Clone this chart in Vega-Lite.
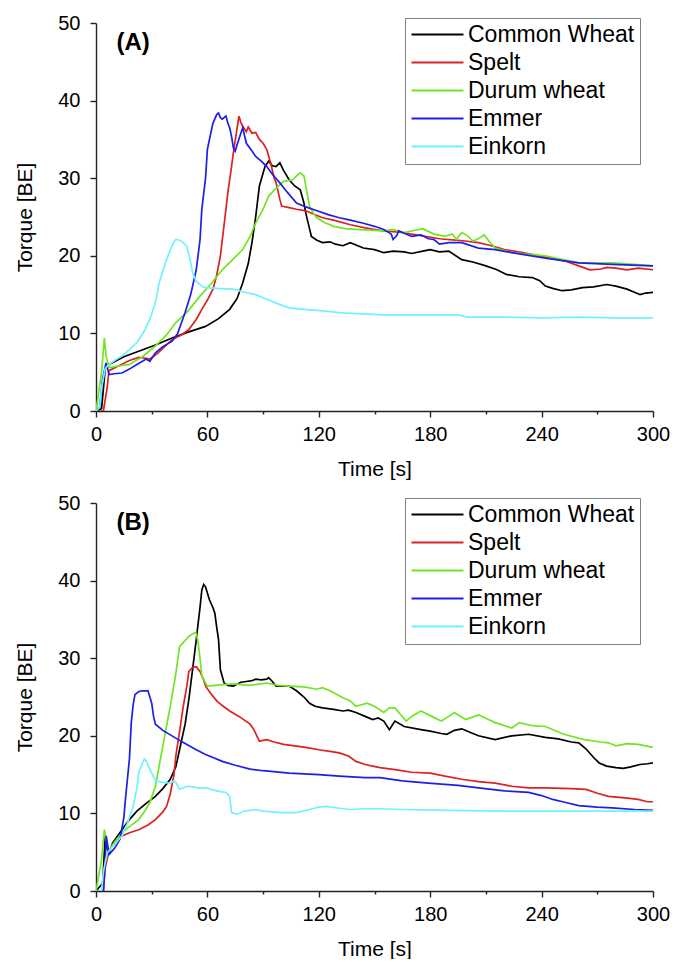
{
"$schema": "https://vega.github.io/schema/vega-lite/v6.json",
"padding": {"left": 14, "top": 13, "right": 0, "bottom": 0},
"background": "white",
"spacing": 14,
"config": {
  "font": "Liberation Sans",
  "view": {"stroke": null},
  "axis": {"grid": false, "domainColor": "#222222", "domainWidth": 1.4, "tickColor": "#222222", "tickWidth": 1.4, "labelColor": "black", "titleColor": "black", "labelFontSize": 20, "titleFontSize": 21, "titleFontWeight": "normal", "labelFlush": false, "labelOverlap": false},
  "legend": {"title": null, "orient": "none", "legendX": 309, "legendY": -5, "symbolType": "M-3,0H3", "symbolSize": 300, "symbolStrokeWidth": 2, "symbolOffset": 16, "labelOffset": 19, "labelFontSize": 23, "labelColor": "black", "fillColor": "white", "strokeColor": "#808080", "padding": 5, "rowPadding": 4, "labelLimit": 300}
},
"resolve": {"legend": {"color": "independent"}},
"vconcat": [
{
 "width": 557, "height": 388,
 "layer": [
  {
   "data": {"values": [
{"s":"Common Wheat","t":0,"v":0},{"s":"Common Wheat","t":3,"v":0.3},{"s":"Common Wheat","t":5,"v":5.5},{"s":"Common Wheat","t":7,"v":6},{"s":"Common Wheat","t":15,"v":7},{"s":"Common Wheat","t":23,"v":7.7},{"s":"Common Wheat","t":32,"v":8.5},{"s":"Common Wheat","t":41,"v":9.4},{"s":"Common Wheat","t":50,"v":10.2},{"s":"Common Wheat","t":59,"v":10.9},{"s":"Common Wheat","t":66,"v":11.9},{"s":"Common Wheat","t":72,"v":13.1},{"s":"Common Wheat","t":76,"v":14.5},{"s":"Common Wheat","t":79,"v":16.5},{"s":"Common Wheat","t":82,"v":19},{"s":"Common Wheat","t":84,"v":21.7},{"s":"Common Wheat","t":86,"v":25},{"s":"Common Wheat","t":88,"v":29},{"s":"Common Wheat","t":91,"v":31.5},{"s":"Common Wheat","t":93,"v":32.2},{"s":"Common Wheat","t":95,"v":31.6},{"s":"Common Wheat","t":97,"v":31.5},{"s":"Common Wheat","t":99,"v":32},{"s":"Common Wheat","t":101,"v":31},{"s":"Common Wheat","t":104,"v":29.8},{"s":"Common Wheat","t":107,"v":29},{"s":"Common Wheat","t":110,"v":28.5},{"s":"Common Wheat","t":112,"v":26.8},{"s":"Common Wheat","t":113,"v":25.5},{"s":"Common Wheat","t":115,"v":23.5},{"s":"Common Wheat","t":116,"v":22.5},{"s":"Common Wheat","t":119,"v":22},{"s":"Common Wheat","t":122,"v":21.7},{"s":"Common Wheat","t":126,"v":21.8},{"s":"Common Wheat","t":129,"v":21.5},{"s":"Common Wheat","t":133,"v":21.3},{"s":"Common Wheat","t":137,"v":21.7},{"s":"Common Wheat","t":141,"v":21.3},{"s":"Common Wheat","t":144,"v":21},{"s":"Common Wheat","t":150,"v":20.8},{"s":"Common Wheat","t":155,"v":20.4},{"s":"Common Wheat","t":160,"v":20.6},{"s":"Common Wheat","t":166,"v":20.5},{"s":"Common Wheat","t":170,"v":20.3},{"s":"Common Wheat","t":176,"v":20.6},{"s":"Common Wheat","t":180,"v":20.8},{"s":"Common Wheat","t":185,"v":20.5},{"s":"Common Wheat","t":190,"v":20.6},{"s":"Common Wheat","t":197,"v":19.5},{"s":"Common Wheat","t":203,"v":19.2},{"s":"Common Wheat","t":210,"v":18.7},{"s":"Common Wheat","t":216,"v":18.2},{"s":"Common Wheat","t":221,"v":17.6},{"s":"Common Wheat","t":228,"v":17.3},{"s":"Common Wheat","t":235,"v":17.2},{"s":"Common Wheat","t":239,"v":16.8},{"s":"Common Wheat","t":242,"v":16.1},{"s":"Common Wheat","t":246,"v":15.8},{"s":"Common Wheat","t":251,"v":15.5},{"s":"Common Wheat","t":256,"v":15.6},{"s":"Common Wheat","t":262,"v":15.9},{"s":"Common Wheat","t":268,"v":16},{"s":"Common Wheat","t":275,"v":16.3},{"s":"Common Wheat","t":280,"v":16.1},{"s":"Common Wheat","t":286,"v":15.7},{"s":"Common Wheat","t":290,"v":15.3},{"s":"Common Wheat","t":293,"v":15},{"s":"Common Wheat","t":296,"v":15.2},{"s":"Common Wheat","t":300,"v":15.3},
{"s":"Spelt","t":0,"v":0},{"s":"Spelt","t":4,"v":0},{"s":"Spelt","t":6,"v":3},{"s":"Spelt","t":7,"v":5.2},{"s":"Spelt","t":12,"v":5.8},{"s":"Spelt","t":18,"v":6.5},{"s":"Spelt","t":23,"v":6.9},{"s":"Spelt","t":27,"v":6.8},{"s":"Spelt","t":29,"v":6.7},{"s":"Spelt","t":33,"v":7.4},{"s":"Spelt","t":37,"v":8.3},{"s":"Spelt","t":41,"v":9.2},{"s":"Spelt","t":46,"v":9.8},{"s":"Spelt","t":50,"v":10.5},{"s":"Spelt","t":54,"v":11.8},{"s":"Spelt","t":57,"v":13.1},{"s":"Spelt","t":60,"v":14.3},{"s":"Spelt","t":63,"v":15.7},{"s":"Spelt","t":65,"v":17.5},{"s":"Spelt","t":67,"v":20},{"s":"Spelt","t":69,"v":24},{"s":"Spelt","t":71,"v":28.1},{"s":"Spelt","t":73,"v":31.5},{"s":"Spelt","t":74,"v":33.3},{"s":"Spelt","t":76,"v":36.5},{"s":"Spelt","t":77,"v":38},{"s":"Spelt","t":78,"v":37.2},{"s":"Spelt","t":79,"v":36.7},{"s":"Spelt","t":81,"v":36},{"s":"Spelt","t":82,"v":36.6},{"s":"Spelt","t":84,"v":35.8},{"s":"Spelt","t":86,"v":35.9},{"s":"Spelt","t":88,"v":35},{"s":"Spelt","t":90,"v":34.5},{"s":"Spelt","t":92,"v":33.7},{"s":"Spelt","t":94,"v":32},{"s":"Spelt","t":96,"v":30},{"s":"Spelt","t":97,"v":29.4},{"s":"Spelt","t":99,"v":27.3},{"s":"Spelt","t":100,"v":26.4},{"s":"Spelt","t":104,"v":26.2},{"s":"Spelt","t":108,"v":26},{"s":"Spelt","t":113,"v":25.8},{"s":"Spelt","t":118,"v":25.3},{"s":"Spelt","t":122,"v":24.9},{"s":"Spelt","t":128,"v":24.6},{"s":"Spelt","t":137,"v":24},{"s":"Spelt","t":145,"v":23.6},{"s":"Spelt","t":155,"v":23.2},{"s":"Spelt","t":165,"v":23},{"s":"Spelt","t":175,"v":22.6},{"s":"Spelt","t":185,"v":22.2},{"s":"Spelt","t":195,"v":22},{"s":"Spelt","t":206,"v":21.7},{"s":"Spelt","t":213,"v":21.3},{"s":"Spelt","t":220,"v":20.8},{"s":"Spelt","t":230,"v":20.4},{"s":"Spelt","t":239,"v":20},{"s":"Spelt","t":247,"v":19.6},{"s":"Spelt","t":253,"v":19.3},{"s":"Spelt","t":260,"v":18.7},{"s":"Spelt","t":266,"v":18.2},{"s":"Spelt","t":272,"v":18.3},{"s":"Spelt","t":275,"v":18.5},{"s":"Spelt","t":280,"v":18.4},{"s":"Spelt","t":286,"v":18.2},{"s":"Spelt","t":292,"v":18.4},{"s":"Spelt","t":300,"v":18.2},
{"s":"Durum wheat","t":0,"v":0},{"s":"Durum wheat","t":3,"v":5},{"s":"Durum wheat","t":4.5,"v":9.4},{"s":"Durum wheat","t":5.5,"v":7},{"s":"Durum wheat","t":7,"v":5.6},{"s":"Durum wheat","t":12,"v":5.8},{"s":"Durum wheat","t":18,"v":6},{"s":"Durum wheat","t":25,"v":7},{"s":"Durum wheat","t":32,"v":8.4},{"s":"Durum wheat","t":38,"v":9.8},{"s":"Durum wheat","t":43,"v":11.4},{"s":"Durum wheat","t":50,"v":13},{"s":"Durum wheat","t":56,"v":14.8},{"s":"Durum wheat","t":62,"v":16.4},{"s":"Durum wheat","t":68,"v":18.2},{"s":"Durum wheat","t":74,"v":19.6},{"s":"Durum wheat","t":79,"v":20.8},{"s":"Durum wheat","t":83,"v":22.5},{"s":"Durum wheat","t":86,"v":24.2},{"s":"Durum wheat","t":90,"v":26},{"s":"Durum wheat","t":93,"v":27.7},{"s":"Durum wheat","t":97,"v":28.7},{"s":"Durum wheat","t":101,"v":29.6},{"s":"Durum wheat","t":106,"v":29.8},{"s":"Durum wheat","t":108,"v":30.3},{"s":"Durum wheat","t":110,"v":30.7},{"s":"Durum wheat","t":112,"v":30.3},{"s":"Durum wheat","t":113,"v":29},{"s":"Durum wheat","t":115,"v":26.4},{"s":"Durum wheat","t":117,"v":25.5},{"s":"Durum wheat","t":119,"v":24.9},{"s":"Durum wheat","t":123,"v":24.3},{"s":"Durum wheat","t":128,"v":23.8},{"s":"Durum wheat","t":134,"v":23.5},{"s":"Durum wheat","t":140,"v":23.4},{"s":"Durum wheat","t":147,"v":23.3},{"s":"Durum wheat","t":155,"v":23.2},{"s":"Durum wheat","t":160,"v":23.4},{"s":"Durum wheat","t":166,"v":23},{"s":"Durum wheat","t":170,"v":23.2},{"s":"Durum wheat","t":176,"v":23.5},{"s":"Durum wheat","t":182,"v":22.8},{"s":"Durum wheat","t":188,"v":22.5},{"s":"Durum wheat","t":192,"v":22.8},{"s":"Durum wheat","t":194,"v":22.1},{"s":"Durum wheat","t":197,"v":23},{"s":"Durum wheat","t":200,"v":22.6},{"s":"Durum wheat","t":203,"v":21.9},{"s":"Durum wheat","t":206,"v":22.2},{"s":"Durum wheat","t":209,"v":22.7},{"s":"Durum wheat","t":212,"v":21.8},{"s":"Durum wheat","t":215,"v":21},{"s":"Durum wheat","t":224,"v":20.4},{"s":"Durum wheat","t":242,"v":20},{"s":"Durum wheat","t":260,"v":19.1},{"s":"Durum wheat","t":278,"v":19.1},{"s":"Durum wheat","t":290,"v":18.9},{"s":"Durum wheat","t":300,"v":18.7},
{"s":"Emmer","t":0,"v":0},{"s":"Emmer","t":2,"v":0.5},{"s":"Emmer","t":3.5,"v":4},{"s":"Emmer","t":5.4,"v":6.2},{"s":"Emmer","t":6.5,"v":5.2},{"s":"Emmer","t":7,"v":4.7},{"s":"Emmer","t":10,"v":4.8},{"s":"Emmer","t":14,"v":4.9},{"s":"Emmer","t":18,"v":5.4},{"s":"Emmer","t":22,"v":6},{"s":"Emmer","t":25,"v":6.4},{"s":"Emmer","t":27,"v":6.7},{"s":"Emmer","t":29,"v":6.4},{"s":"Emmer","t":32,"v":7.5},{"s":"Emmer","t":36,"v":8.3},{"s":"Emmer","t":41,"v":9},{"s":"Emmer","t":44,"v":10},{"s":"Emmer","t":48,"v":12.7},{"s":"Emmer","t":51,"v":15},{"s":"Emmer","t":54,"v":18.2},{"s":"Emmer","t":56,"v":22},{"s":"Emmer","t":57,"v":26},{"s":"Emmer","t":59,"v":30},{"s":"Emmer","t":60,"v":33.7},{"s":"Emmer","t":62,"v":36},{"s":"Emmer","t":63,"v":37.1},{"s":"Emmer","t":65,"v":38.2},{"s":"Emmer","t":66,"v":38.4},{"s":"Emmer","t":67,"v":37.8},{"s":"Emmer","t":68,"v":37.6},{"s":"Emmer","t":70,"v":38},{"s":"Emmer","t":71,"v":37.1},{"s":"Emmer","t":72,"v":36.5},{"s":"Emmer","t":73,"v":35.4},{"s":"Emmer","t":74,"v":33.9},{"s":"Emmer","t":75,"v":33.5},{"s":"Emmer","t":76,"v":34.3},{"s":"Emmer","t":78,"v":35.8},{"s":"Emmer","t":79,"v":36.5},{"s":"Emmer","t":80,"v":35.5},{"s":"Emmer","t":81,"v":34.5},{"s":"Emmer","t":84,"v":33.5},{"s":"Emmer","t":86,"v":32.8},{"s":"Emmer","t":89,"v":32.2},{"s":"Emmer","t":92,"v":31.5},{"s":"Emmer","t":95,"v":30.5},{"s":"Emmer","t":99,"v":29.4},{"s":"Emmer","t":103,"v":28.2},{"s":"Emmer","t":108,"v":26.8},{"s":"Emmer","t":113,"v":26.3},{"s":"Emmer","t":119,"v":25.8},{"s":"Emmer","t":125,"v":25.3},{"s":"Emmer","t":131,"v":24.9},{"s":"Emmer","t":137,"v":24.6},{"s":"Emmer","t":144,"v":24.2},{"s":"Emmer","t":150,"v":23.8},{"s":"Emmer","t":155,"v":23.4},{"s":"Emmer","t":159,"v":22.8},{"s":"Emmer","t":160,"v":22.1},{"s":"Emmer","t":162,"v":22.6},{"s":"Emmer","t":163,"v":23.2},{"s":"Emmer","t":167,"v":22.8},{"s":"Emmer","t":170,"v":22.5},{"s":"Emmer","t":175,"v":22.7},{"s":"Emmer","t":179,"v":22.2},{"s":"Emmer","t":182,"v":22.1},{"s":"Emmer","t":185,"v":21.5},{"s":"Emmer","t":190,"v":21.7},{"s":"Emmer","t":197,"v":21.7},{"s":"Emmer","t":206,"v":21},{"s":"Emmer","t":215,"v":20.8},{"s":"Emmer","t":224,"v":20.4},{"s":"Emmer","t":242,"v":19.7},{"s":"Emmer","t":260,"v":19.1},{"s":"Emmer","t":278,"v":18.9},{"s":"Emmer","t":300,"v":18.7},
{"s":"Einkorn","t":0,"v":0},{"s":"Einkorn","t":2,"v":0.5},{"s":"Einkorn","t":3,"v":3},{"s":"Einkorn","t":5,"v":5.5},{"s":"Einkorn","t":7,"v":6},{"s":"Einkorn","t":10,"v":6.5},{"s":"Einkorn","t":14,"v":7.1},{"s":"Einkorn","t":18,"v":7.9},{"s":"Einkorn","t":22,"v":8.8},{"s":"Einkorn","t":26,"v":10.3},{"s":"Einkorn","t":29,"v":11.8},{"s":"Einkorn","t":32,"v":14},{"s":"Einkorn","t":34,"v":16.5},{"s":"Einkorn","t":37,"v":18.8},{"s":"Einkorn","t":40,"v":20.8},{"s":"Einkorn","t":42,"v":21.8},{"s":"Einkorn","t":43,"v":22.1},{"s":"Einkorn","t":45,"v":22},{"s":"Einkorn","t":47,"v":21.7},{"s":"Einkorn","t":49,"v":21.2},{"s":"Einkorn","t":51,"v":19.1},{"s":"Einkorn","t":52,"v":17.8},{"s":"Einkorn","t":54,"v":16.7},{"s":"Einkorn","t":57,"v":16.1},{"s":"Einkorn","t":59,"v":15.9},{"s":"Einkorn","t":65,"v":15.8},{"s":"Einkorn","t":74,"v":15.7},{"s":"Einkorn","t":80,"v":15.3},{"s":"Einkorn","t":86,"v":15},{"s":"Einkorn","t":92,"v":14.4},{"s":"Einkorn","t":97,"v":13.9},{"s":"Einkorn","t":104,"v":13.3},{"s":"Einkorn","t":112,"v":13.1},{"s":"Einkorn","t":122,"v":12.9},{"s":"Einkorn","t":135,"v":12.6},{"s":"Einkorn","t":155,"v":12.4},{"s":"Einkorn","t":180,"v":12.4},{"s":"Einkorn","t":195,"v":12.4},{"s":"Einkorn","t":200,"v":12.1},{"s":"Einkorn","t":220,"v":12.1},{"s":"Einkorn","t":240,"v":12},{"s":"Einkorn","t":260,"v":12.1},{"s":"Einkorn","t":280,"v":12},{"s":"Einkorn","t":300,"v":12}
   ]},
   "mark": {"type": "line", "strokeWidth": 1.7, "clip": true},
   "encoding": {
    "x": {"field": "t", "type": "quantitative", "scale": {"domain": [0, 300], "nice": false},
          "axis": {"title": "Time [s]", "values": [0,30,60,90,120,150,180,210,240,270,300], "labelExpr": "datum.value % 60 === 0 ? datum.label : ''", "tickSize": {"condition": {"test": "datum.value % 60 === 0", "value": 6}, "value": 3}, "labelPadding": 7, "titlePadding": 14}},
    "y": {"field": "v", "type": "quantitative", "scale": {"domain": [0, 50], "nice": false},
          "axis": {"title": "Torque [BE]", "values": [0,2.5,5,7.5,10,12.5,15,17.5,20,22.5,25,27.5,30,32.5,35,37.5,40,42.5,45,47.5,50], "labelExpr": "datum.value % 5 === 0 ? datum.label : ''", "tickSize": {"condition": {"test": "datum.value % 5 === 0", "value": 6}, "value": 3}, "labelPadding": 10, "titlePadding": 22}},
    "color": {"field": "s", "type": "nominal",
      "scale": {"domain": ["Common Wheat", "Spelt", "Durum wheat", "Emmer", "Einkorn"], "range": ["#000000", "#dd2020", "#70e622", "#1e1ee8", "#6ef2ff"]},
      "legend": {}}
   }
  },
  {
   "data": {"values": [{"label": "(A)"}]},
   "mark": {"type": "text", "fontWeight": "bold", "fontSize": 24, "align": "left", "baseline": "middle", "color": "black"},
   "encoding": {"x": {"datum": 11, "type": "quantitative"}, "y": {"datum": 47.4, "type": "quantitative"}, "text": {"field": "label"}}
  }
 ]
},
{
 "width": 557, "height": 388,
 "layer": [
  {
   "data": {"values": [
{"s":"Common Wheat","t":0,"v":0},{"s":"Common Wheat","t":3.6,"v":1},{"s":"Common Wheat","t":4.5,"v":5},{"s":"Common Wheat","t":5,"v":7.1},{"s":"Common Wheat","t":6,"v":5.5},{"s":"Common Wheat","t":7,"v":4.9},{"s":"Common Wheat","t":9,"v":6.2},{"s":"Common Wheat","t":14,"v":7.9},{"s":"Common Wheat","t":18,"v":9.2},{"s":"Common Wheat","t":22,"v":10.3},{"s":"Common Wheat","t":27,"v":11.3},{"s":"Common Wheat","t":32,"v":12.2},{"s":"Common Wheat","t":36,"v":13.2},{"s":"Common Wheat","t":40,"v":14.4},{"s":"Common Wheat","t":43,"v":16},{"s":"Common Wheat","t":45,"v":18.2},{"s":"Common Wheat","t":48,"v":21.5},{"s":"Common Wheat","t":50,"v":24.7},{"s":"Common Wheat","t":52,"v":28.5},{"s":"Common Wheat","t":54,"v":32.4},{"s":"Common Wheat","t":56,"v":36.5},{"s":"Common Wheat","t":57,"v":38.8},{"s":"Common Wheat","t":58,"v":39.5},{"s":"Common Wheat","t":59,"v":39.2},{"s":"Common Wheat","t":61,"v":37.6},{"s":"Common Wheat","t":63,"v":36.5},{"s":"Common Wheat","t":64,"v":35.8},{"s":"Common Wheat","t":65,"v":34},{"s":"Common Wheat","t":66,"v":32.4},{"s":"Common Wheat","t":67,"v":28.5},{"s":"Common Wheat","t":69,"v":26.8},{"s":"Common Wheat","t":71,"v":26.5},{"s":"Common Wheat","t":74,"v":26.4},{"s":"Common Wheat","t":78,"v":26.9},{"s":"Common Wheat","t":81,"v":27},{"s":"Common Wheat","t":84,"v":27.1},{"s":"Common Wheat","t":86,"v":27.3},{"s":"Common Wheat","t":89,"v":27.2},{"s":"Common Wheat","t":92,"v":27.3},{"s":"Common Wheat","t":93,"v":27.5},{"s":"Common Wheat","t":95,"v":27},{"s":"Common Wheat","t":97,"v":26.4},{"s":"Common Wheat","t":100,"v":26.4},{"s":"Common Wheat","t":104,"v":26.4},{"s":"Common Wheat","t":108,"v":25.8},{"s":"Common Wheat","t":112,"v":25},{"s":"Common Wheat","t":115,"v":24.2},{"s":"Common Wheat","t":118,"v":23.8},{"s":"Common Wheat","t":122,"v":23.6},{"s":"Common Wheat","t":128,"v":23.4},{"s":"Common Wheat","t":133,"v":23.2},{"s":"Common Wheat","t":136,"v":23.3},{"s":"Common Wheat","t":140,"v":23},{"s":"Common Wheat","t":145,"v":22.5},{"s":"Common Wheat","t":149,"v":22.1},{"s":"Common Wheat","t":152,"v":22.3},{"s":"Common Wheat","t":155,"v":21.9},{"s":"Common Wheat","t":158,"v":20.8},{"s":"Common Wheat","t":161,"v":21.9},{"s":"Common Wheat","t":166,"v":21.2},{"s":"Common Wheat","t":175,"v":20.8},{"s":"Common Wheat","t":180,"v":20.6},{"s":"Common Wheat","t":186,"v":20.3},{"s":"Common Wheat","t":189,"v":20.2},{"s":"Common Wheat","t":193,"v":20.7},{"s":"Common Wheat","t":197,"v":20.9},{"s":"Common Wheat","t":203,"v":20.3},{"s":"Common Wheat","t":206,"v":20},{"s":"Common Wheat","t":215,"v":19.5},{"s":"Common Wheat","t":224,"v":20},{"s":"Common Wheat","t":233,"v":20.2},{"s":"Common Wheat","t":242,"v":19.8},{"s":"Common Wheat","t":249,"v":19.6},{"s":"Common Wheat","t":256,"v":19.2},{"s":"Common Wheat","t":260,"v":19.1},{"s":"Common Wheat","t":264,"v":18.3},{"s":"Common Wheat","t":268,"v":17.2},{"s":"Common Wheat","t":271,"v":16.5},{"s":"Common Wheat","t":275,"v":16.1},{"s":"Common Wheat","t":280,"v":15.9},{"s":"Common Wheat","t":284,"v":15.8},{"s":"Common Wheat","t":288,"v":16},{"s":"Common Wheat","t":293,"v":16.3},{"s":"Common Wheat","t":297,"v":16.4},{"s":"Common Wheat","t":300,"v":16.5},
{"s":"Spelt","t":0,"v":0},{"s":"Spelt","t":4,"v":0},{"s":"Spelt","t":5,"v":3},{"s":"Spelt","t":7,"v":5.2},{"s":"Spelt","t":10,"v":6.2},{"s":"Spelt","t":14,"v":7.1},{"s":"Spelt","t":18,"v":7.5},{"s":"Spelt","t":23,"v":7.9},{"s":"Spelt","t":28,"v":8.5},{"s":"Spelt","t":32,"v":9.2},{"s":"Spelt","t":36,"v":10.2},{"s":"Spelt","t":38,"v":10.9},{"s":"Spelt","t":40,"v":12.5},{"s":"Spelt","t":42,"v":15},{"s":"Spelt","t":43,"v":17.4},{"s":"Spelt","t":45,"v":20.5},{"s":"Spelt","t":47,"v":23.8},{"s":"Spelt","t":49,"v":26.5},{"s":"Spelt","t":50,"v":28.3},{"s":"Spelt","t":52,"v":28.8},{"s":"Spelt","t":54,"v":28.9},{"s":"Spelt","t":56,"v":28.3},{"s":"Spelt","t":58,"v":27.2},{"s":"Spelt","t":59,"v":26.4},{"s":"Spelt","t":62,"v":25.4},{"s":"Spelt","t":65,"v":24.5},{"s":"Spelt","t":68,"v":23.9},{"s":"Spelt","t":72,"v":23.2},{"s":"Spelt","t":77,"v":22.5},{"s":"Spelt","t":83,"v":21.5},{"s":"Spelt","t":85,"v":20.8},{"s":"Spelt","t":88,"v":19.3},{"s":"Spelt","t":90,"v":19.4},{"s":"Spelt","t":92,"v":19.5},{"s":"Spelt","t":96,"v":19.2},{"s":"Spelt","t":101,"v":18.9},{"s":"Spelt","t":107,"v":18.7},{"s":"Spelt","t":113,"v":18.5},{"s":"Spelt","t":120,"v":18.2},{"s":"Spelt","t":126,"v":18},{"s":"Spelt","t":131,"v":17.8},{"s":"Spelt","t":136,"v":17.4},{"s":"Spelt","t":140,"v":16.7},{"s":"Spelt","t":145,"v":16.3},{"s":"Spelt","t":149,"v":16.1},{"s":"Spelt","t":153,"v":15.9},{"s":"Spelt","t":162,"v":15.6},{"s":"Spelt","t":170,"v":15.3},{"s":"Spelt","t":180,"v":15.2},{"s":"Spelt","t":188,"v":14.8},{"s":"Spelt","t":197,"v":14.4},{"s":"Spelt","t":206,"v":14.1},{"s":"Spelt","t":215,"v":13.9},{"s":"Spelt","t":224,"v":13.5},{"s":"Spelt","t":233,"v":13.3},{"s":"Spelt","t":242,"v":13.3},{"s":"Spelt","t":256,"v":13.2},{"s":"Spelt","t":264,"v":13.1},{"s":"Spelt","t":270,"v":12.6},{"s":"Spelt","t":276,"v":12.2},{"s":"Spelt","t":285,"v":12},{"s":"Spelt","t":292,"v":11.8},{"s":"Spelt","t":297,"v":11.5},{"s":"Spelt","t":300,"v":11.5},
{"s":"Durum wheat","t":0,"v":0},{"s":"Durum wheat","t":3,"v":4},{"s":"Durum wheat","t":4.5,"v":7.9},{"s":"Durum wheat","t":5.5,"v":6.5},{"s":"Durum wheat","t":7,"v":5.2},{"s":"Durum wheat","t":10,"v":6.3},{"s":"Durum wheat","t":14,"v":7.5},{"s":"Durum wheat","t":18,"v":8.3},{"s":"Durum wheat","t":23,"v":9.2},{"s":"Durum wheat","t":26,"v":10.2},{"s":"Durum wheat","t":29,"v":11.4},{"s":"Durum wheat","t":32,"v":13.5},{"s":"Durum wheat","t":34,"v":16.1},{"s":"Durum wheat","t":37,"v":20},{"s":"Durum wheat","t":40,"v":23.8},{"s":"Durum wheat","t":43,"v":28},{"s":"Durum wheat","t":45,"v":31.5},{"s":"Durum wheat","t":48,"v":32.3},{"s":"Durum wheat","t":50,"v":32.8},{"s":"Durum wheat","t":53,"v":33.3},{"s":"Durum wheat","t":54,"v":33.2},{"s":"Durum wheat","t":55,"v":32},{"s":"Durum wheat","t":56,"v":30},{"s":"Durum wheat","t":57,"v":27.7},{"s":"Durum wheat","t":60,"v":26.4},{"s":"Durum wheat","t":64,"v":26.5},{"s":"Durum wheat","t":68,"v":26.6},{"s":"Durum wheat","t":75,"v":26.7},{"s":"Durum wheat","t":82,"v":26.5},{"s":"Durum wheat","t":86,"v":26.6},{"s":"Durum wheat","t":92,"v":26.8},{"s":"Durum wheat","t":98,"v":26.5},{"s":"Durum wheat","t":104,"v":26.4},{"s":"Durum wheat","t":112,"v":26.3},{"s":"Durum wheat","t":119,"v":26},{"s":"Durum wheat","t":122,"v":26.2},{"s":"Durum wheat","t":126,"v":25.8},{"s":"Durum wheat","t":130,"v":25.3},{"s":"Durum wheat","t":133,"v":24.9},{"s":"Durum wheat","t":137,"v":24.5},{"s":"Durum wheat","t":140,"v":23.8},{"s":"Durum wheat","t":143,"v":24},{"s":"Durum wheat","t":146,"v":24.2},{"s":"Durum wheat","t":150,"v":23.8},{"s":"Durum wheat","t":155,"v":23},{"s":"Durum wheat","t":158,"v":23.6},{"s":"Durum wheat","t":161,"v":23.6},{"s":"Durum wheat","t":167,"v":21.9},{"s":"Durum wheat","t":170,"v":22.5},{"s":"Durum wheat","t":175,"v":23.2},{"s":"Durum wheat","t":180,"v":22.6},{"s":"Durum wheat","t":186,"v":21.9},{"s":"Durum wheat","t":190,"v":22.5},{"s":"Durum wheat","t":193,"v":23},{"s":"Durum wheat","t":199,"v":22.1},{"s":"Durum wheat","t":206,"v":22.7},{"s":"Durum wheat","t":215,"v":21.7},{"s":"Durum wheat","t":224,"v":21},{"s":"Durum wheat","t":228,"v":21.7},{"s":"Durum wheat","t":235,"v":21.3},{"s":"Durum wheat","t":242,"v":21.2},{"s":"Durum wheat","t":252,"v":20.2},{"s":"Durum wheat","t":263,"v":19.5},{"s":"Durum wheat","t":272,"v":19.2},{"s":"Durum wheat","t":276,"v":19.1},{"s":"Durum wheat","t":280,"v":18.7},{"s":"Durum wheat","t":286,"v":19},{"s":"Durum wheat","t":292,"v":18.9},{"s":"Durum wheat","t":300,"v":18.5},
{"s":"Emmer","t":0,"v":0},{"s":"Emmer","t":4,"v":0},{"s":"Emmer","t":5,"v":4},{"s":"Emmer","t":5.5,"v":7.1},{"s":"Emmer","t":6.5,"v":5.5},{"s":"Emmer","t":7,"v":4.7},{"s":"Emmer","t":10,"v":5.5},{"s":"Emmer","t":13,"v":6.7},{"s":"Emmer","t":15,"v":9.5},{"s":"Emmer","t":16,"v":12.2},{"s":"Emmer","t":18,"v":17},{"s":"Emmer","t":19,"v":21.7},{"s":"Emmer","t":20,"v":24},{"s":"Emmer","t":21,"v":25.3},{"s":"Emmer","t":23,"v":25.7},{"s":"Emmer","t":25,"v":25.8},{"s":"Emmer","t":28,"v":25.8},{"s":"Emmer","t":29,"v":25},{"s":"Emmer","t":30,"v":24.2},{"s":"Emmer","t":31,"v":22.5},{"s":"Emmer","t":32,"v":21.5},{"s":"Emmer","t":36,"v":20.7},{"s":"Emmer","t":43,"v":19.7},{"s":"Emmer","t":48,"v":19},{"s":"Emmer","t":54,"v":18.2},{"s":"Emmer","t":59,"v":17.6},{"s":"Emmer","t":63,"v":17.2},{"s":"Emmer","t":68,"v":16.7},{"s":"Emmer","t":75,"v":16.2},{"s":"Emmer","t":83,"v":15.7},{"s":"Emmer","t":90,"v":15.5},{"s":"Emmer","t":104,"v":15.2},{"s":"Emmer","t":120,"v":15},{"s":"Emmer","t":131,"v":14.8},{"s":"Emmer","t":145,"v":14.6},{"s":"Emmer","t":153,"v":14.6},{"s":"Emmer","t":165,"v":14.2},{"s":"Emmer","t":179,"v":13.9},{"s":"Emmer","t":195,"v":13.6},{"s":"Emmer","t":206,"v":13.3},{"s":"Emmer","t":220,"v":12.9},{"s":"Emmer","t":233,"v":12.7},{"s":"Emmer","t":240,"v":12.3},{"s":"Emmer","t":246,"v":11.8},{"s":"Emmer","t":253,"v":11.4},{"s":"Emmer","t":260,"v":11},{"s":"Emmer","t":270,"v":10.8},{"s":"Emmer","t":278,"v":10.7},{"s":"Emmer","t":290,"v":10.5},{"s":"Emmer","t":300,"v":10.4},
{"s":"Einkorn","t":0,"v":0},{"s":"Einkorn","t":3,"v":0},{"s":"Einkorn","t":4,"v":2.5},{"s":"Einkorn","t":6,"v":4.9},{"s":"Einkorn","t":10,"v":6},{"s":"Einkorn","t":14,"v":7.1},{"s":"Einkorn","t":17,"v":8.8},{"s":"Einkorn","t":20,"v":10.9},{"s":"Einkorn","t":22,"v":13.2},{"s":"Einkorn","t":23,"v":15.2},{"s":"Einkorn","t":25,"v":16.5},{"s":"Einkorn","t":26,"v":17},{"s":"Einkorn","t":27,"v":16.8},{"s":"Einkorn","t":29,"v":15.7},{"s":"Einkorn","t":31,"v":14.7},{"s":"Einkorn","t":32,"v":14.2},{"s":"Einkorn","t":36,"v":14},{"s":"Einkorn","t":40,"v":13.9},{"s":"Einkorn","t":42,"v":14.2},{"s":"Einkorn","t":43,"v":14},{"s":"Einkorn","t":45,"v":13.1},{"s":"Einkorn","t":48,"v":13.4},{"s":"Einkorn","t":50,"v":13.5},{"s":"Einkorn","t":55,"v":13.3},{"s":"Einkorn","t":59,"v":13.3},{"s":"Einkorn","t":65,"v":12.9},{"s":"Einkorn","t":70,"v":12.7},{"s":"Einkorn","t":72,"v":12.2},{"s":"Einkorn","t":73,"v":10.1},{"s":"Einkorn","t":76,"v":9.9},{"s":"Einkorn","t":80,"v":10.3},{"s":"Einkorn","t":86,"v":10.5},{"s":"Einkorn","t":90,"v":10.3},{"s":"Einkorn","t":95,"v":10.2},{"s":"Einkorn","t":100,"v":10.1},{"s":"Einkorn","t":108,"v":10.1},{"s":"Einkorn","t":115,"v":10.5},{"s":"Einkorn","t":120,"v":10.8},{"s":"Einkorn","t":124,"v":10.9},{"s":"Einkorn","t":130,"v":10.7},{"s":"Einkorn","t":137,"v":10.5},{"s":"Einkorn","t":145,"v":10.6},{"s":"Einkorn","t":153,"v":10.6},{"s":"Einkorn","t":165,"v":10.5},{"s":"Einkorn","t":190,"v":10.4},{"s":"Einkorn","t":220,"v":10.3},{"s":"Einkorn","t":250,"v":10.3},{"s":"Einkorn","t":275,"v":10.3},{"s":"Einkorn","t":300,"v":10.3}
   ]},
   "mark": {"type": "line", "strokeWidth": 1.7, "clip": true},
   "encoding": {
    "x": {"field": "t", "type": "quantitative", "scale": {"domain": [0, 300], "nice": false},
          "axis": {"title": "Time [s]", "values": [0,30,60,90,120,150,180,210,240,270,300], "labelExpr": "datum.value % 60 === 0 ? datum.label : ''", "tickSize": {"condition": {"test": "datum.value % 60 === 0", "value": 6}, "value": 3}, "labelPadding": 7, "titlePadding": 14}},
    "y": {"field": "v", "type": "quantitative", "scale": {"domain": [0, 50], "nice": false},
          "axis": {"title": "Torque [BE]", "values": [0,2.5,5,7.5,10,12.5,15,17.5,20,22.5,25,27.5,30,32.5,35,37.5,40,42.5,45,47.5,50], "labelExpr": "datum.value % 5 === 0 ? datum.label : ''", "tickSize": {"condition": {"test": "datum.value % 5 === 0", "value": 6}, "value": 3}, "labelPadding": 10, "titlePadding": 22}},
    "color": {"field": "s", "type": "nominal",
      "scale": {"domain": ["Common Wheat", "Spelt", "Durum wheat", "Emmer", "Einkorn"], "range": ["#000000", "#dd2020", "#70e622", "#1e1ee8", "#6ef2ff"]},
      "legend": {}}
   }
  },
  {
   "data": {"values": [{"label": "(B)"}]},
   "mark": {"type": "text", "fontWeight": "bold", "fontSize": 24, "align": "left", "baseline": "middle", "color": "black"},
   "encoding": {"x": {"datum": 11, "type": "quantitative"}, "y": {"datum": 47.4, "type": "quantitative"}, "text": {"field": "label"}}
  }
 ]
}
]
}
